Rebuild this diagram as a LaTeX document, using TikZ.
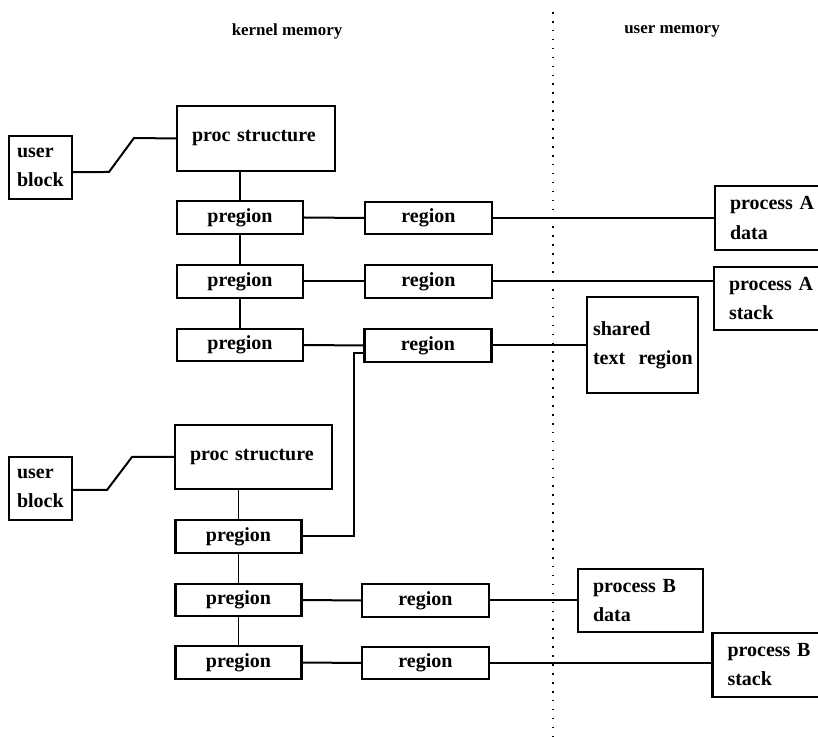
\documentclass[tikz,border=0pt]{standalone}
\usepackage{fontspec}
\setmainfont{Liberation Serif}
\begin{document}
\begin{tikzpicture}[x=0.75pt,y=-0.75pt,
  box/.style={draw, line width=1.6pt, inner sep=0pt, rectangle,
    font=\bfseries\fontsize{15}{21.75}\selectfont},
  small/.style={box, minimum width=94.5pt, minimum height=24.5pt},
  tall/.style={box, align=left, minimum height=48pt},
  conn/.style={line width=1.5pt},
  vconn/.style={line width=1.0pt},
  title/.style={font=\bfseries\fontsize{12.7}{14}\selectfont, inner sep=0pt}
]
\path[use as bounding box] (0,0) rectangle (818,737);
\clip (0,0) rectangle (818,737);

% titles and divider
\node[title] (tk) at (287,31) {kernel memory};
\node[title] (tu) at (672,31) {user memory};
\coordinate (dtop) at (553,12);
\coordinate (dbot) at (553,737);
\draw[line width=1.2pt, dash pattern=on 1.2pt off 5.5pt] (dtop) -- (dbot);

% ---------------- process A ----------------
\node[tall, text width=35.25pt, inner xsep=6pt, minimum width=47.25pt, minimum height=47.25pt] (uA) at (40.5,167.5) {user\\block};
\node[tall, text width=96pt, inner xsep=11.25pt, minimum height=48.75pt] (procA) at (256,138.5) {proc structure};
\node[small] (pA1) at (240,217.5) {pregion};
\node[small] (pA2) at (240,281.5) {pregion};
\node[small] (pA3) at (240,345) {pregion};
\node[small, minimum width=95.25pt] (rA1) at (428.5,218) {region};
\node[small, minimum width=95.25pt] (rA2) at (428.5,281.5) {region};
\node[small, minimum width=95.25pt] (rA3) at (428,345.5) {region};
\node[tall, text width=71.25pt, inner xsep=11.25pt] (dataA) at (777.5,218) {process A\\data};
\node[tall, text width=71.25pt, inner xsep=11.25pt, minimum height=47.25pt] (stackA) at (776.5,298.5) {process A\\stack};
\node[tall, text width=74.25pt, inner xsep=4.5pt, minimum height=72pt] (shared) at (642.5,345) {shared\\\mbox{text\ \ region}\\[6pt]};

\draw[conn] ([yshift=-3.4pt]uA.east) -- (109,172) -- (134,138) -- (procA.west);
\draw[vconn] (pA1.north |- procA.south) -- (pA1.north);
\draw[vconn] (pA1.south) -- (pA2.north);
\draw[vconn] (pA2.south) -- (pA3.north);
\draw[conn] (pA1.east) -- (rA1.west);
\draw[conn] (pA2.east) -- (rA2.west);
\draw[conn] (pA3.east) -- (rA3.west);
\draw[conn] (rA1.east) -- (rA1.east -| dataA.west);
\draw[conn] (rA2.east) -- (rA2.east -| stackA.west);
\draw[conn] (rA3.east) -- (rA3.east -| shared.west);

% ---------------- process B ----------------
\node[tall, text width=35.25pt, inner xsep=6pt, minimum width=47.25pt, minimum height=47.25pt] (uB) at (40.5,488.5) {user\\block};
\node[tall, text width=95.25pt, inner xsep=11.25pt, minimum height=48pt] (procB) at (253.5,457) {proc structure};
\node[small] (pB1) at (238.5,536.5) {pregion};
\node[small] (pB2) at (238.5,600) {pregion};
\node[small] (pB3) at (238.5,662.5) {pregion};
\node[small, minimum width=95.25pt] (rB2) at (425.5,600.5) {region};
\node[small, minimum width=95.25pt] (rB3) at (425.5,663) {region};
\node[tall, text width=71.25pt, inner xsep=11.25pt, minimum height=47.25pt] (dataB) at (640.5,600.5) {process B\\data};
\node[tall, text width=71.25pt, inner xsep=11.25pt] (stackB) at (775,665) {process B\\stack};

\draw[conn] ([yshift=-1.1pt]uB.east) -- (107,490) -- (132,457) -- (procB.west);
\draw[vconn] (pB1.north |- procB.south) -- (pB1.north);
\draw[vconn] (pB1.south) -- (pB2.north);
\draw[vconn] (pB2.south) -- (pB3.north);
\draw[conn] (pB2.east) -- (rB2.west);
\draw[conn] (pB3.east) -- (rB3.west);
\draw[conn] (rB2.east) -- (rB2.east -| dataB.west);
\draw[conn] (rB3.east) -- (rB3.east -| stackB.west);

% shared link from process B's pregion to the shared text region
\coordinate (bend) at ([xshift=-6.75pt, yshift=7.5pt]rA3.south west);
\draw[conn] (pB1.east) -| (bend) -- ([yshift=7.5pt]rA3.south west);
\end{tikzpicture}
\end{document}
